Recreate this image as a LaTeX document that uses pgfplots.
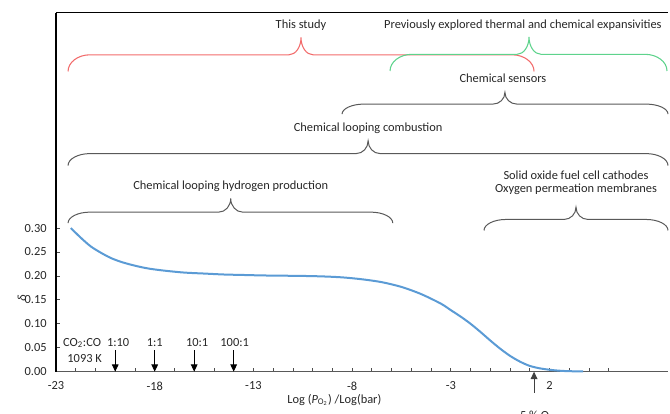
\documentclass[border=0pt]{standalone}
\usepackage{pgfplots}
\pgfplotsset{compat=1.18}
\usepackage{pgfplotstable}
\usepackage{fontspec}
\setmainfont{Carlito}
\usetikzlibrary{arrows.meta}

\definecolor{curveblue}{HTML}{5B9BD5}
\definecolor{bracered}{HTML}{F26B6B}
\definecolor{bracegreen}{HTML}{5ED38C}
\definecolor{bracegray}{HTML}{595959}
\definecolor{txt}{HTML}{262626}

\newcommand{\lblfont}{\fontsize{9.3}{11.2}\selectfont}

% Curly brace above a range of log(pO2):
% #1 style, #2 left x, #3 middle x, #4 right x, #5 y of the bar, #6 end drop, #7 cusp height
\newcommand{\curlybrace}[7]{%
  \draw[#1] ([yshift=-#6]axis cs:#2,#5)
    .. controls ([yshift=-0.45*#6]axis cs:#2,#5) and ([xshift=7.4pt]axis cs:#2,#5) .. ([xshift=16.5pt]axis cs:#2,#5)
    -- ([xshift=-9pt]axis cs:#3,#5)
    .. controls ([xshift=-4pt]axis cs:#3,#5) and ([yshift=0.45*#7]axis cs:#3,#5) .. ([yshift=#7]axis cs:#3,#5)
    .. controls ([yshift=0.45*#7]axis cs:#3,#5) and ([xshift=4pt]axis cs:#3,#5) .. ([xshift=9pt]axis cs:#3,#5)
    -- ([xshift=-16.5pt]axis cs:#4,#5)
    .. controls ([xshift=-7.4pt]axis cs:#4,#5) and ([yshift=-0.45*#6]axis cs:#4,#5) .. ([yshift=-#6]axis cs:#4,#5);
}

% Oxygen non-stoichiometry at 1093 K
\pgfplotstableread{
x       d
-22.25  0.300
-21.75  0.280
-21.25  0.262
-20.75  0.249
-20.25  0.238
-19.75  0.230
-19.25  0.224
-18.75  0.219
-18.25  0.215
-17.5   0.211
-16.5   0.207
-15.5   0.205
-14.5   0.203
-13.5   0.202
-12.5   0.201
-11.5   0.2005
-10.5   0.200
-9.5    0.199
-8.5    0.197
-7.5    0.193
-6.5    0.187
-5.5    0.177
-4.5    0.162
-3.5    0.142
-3.0    0.1285
-2.5    0.115
-2.0    0.100
-1.5    0.083
-1.0    0.065
-0.5    0.048
0.0     0.033
0.5     0.021
1.0     0.012
1.5     0.007
2.0     0.004
2.5     0.002
3.0     0.001
3.7     0.0005
}\deltadata

\begin{document}
\begin{tikzpicture}[font=\lblfont]
\begin{axis}[
  width=459pt, height=269.25pt, scale only axis,
  xmin=-23, xmax=8, ymin=0, ymax=0.75,
  axis x line*=bottom, axis y line*=left,
  axis line style={-},
  x axis line style={black!65, line width=1.2pt, -},
  y axis line style={black, line width=0.8pt, -},
  xtick={-23,-18,-13,-8,-3,2},
  minor xtick={-22,-21,-20,-19,-17,-16,-15,-14,-12,-11,-10,-9,-7,-6,-5,-4,-2,-1,0,1,3,4,5},
  ytick={0,0.05,0.1,0.15,0.2,0.25,0.3},
  tick align=inside,
  major tick length=3pt, minor tick length=3pt,
  tick style={black!70, line width=0.6pt},
  xticklabel style={font=\lblfont, text=txt, yshift=-4pt},
  yticklabel style={font=\lblfont, text=txt, xshift=-3.5pt,
    /pgf/number format/.cd, fixed, fixed zerofill, precision=2},
  /pgf/number format/assume math mode=true,
  clip=false,
]
  \addplot[curveblue, line width=1.5pt, smooth] table[x=x, y=d] {\deltadata};

  % frame along the top
  \draw[black, line width=0.8pt] (rel axis cs:0,1) -- (rel axis cs:1,1);

  % application ranges
  \curlybrace{bracered, line width=0.8pt}{-22.39}{-10.59}{1.215}{0.662}{12.5pt}{13pt}
  \curlybrace{bracegreen, line width=0.8pt}{-6.08}{0.96}{7.95}{0.663}{12.5pt}{13pt}
  \curlybrace{bracegray, line width=0.75pt}{-8.51}{-0.26}{8.0}{0.559}{7.5pt}{8.8pt}
  \curlybrace{bracegray, line width=0.75pt}{-22.39}{-7.19}{8.0}{0.4556}{9pt}{9.6pt}
  \curlybrace{bracegray, line width=0.75pt}{-22.39}{-14.15}{-5.94}{0.3333}{8.25pt}{10.2pt}
  \curlybrace{bracegray, line width=0.75pt}{-1.32}{3.34}{8.0}{0.318}{8.25pt}{9.2pt}

  \node[text=txt] at (axis cs:-10.59,0.724) {This study};
  \node[text=txt] at (axis cs:0.65,0.724) {Previously explored thermal and chemical expansivities};
  \node[text=txt] at (axis cs:-0.36,0.614) {Chemical sensors};
  \node[text=txt] at (axis cs:-7.19,0.508) {Chemical looping combustion};
  \node[text=txt] at (axis cs:-14.15,0.387) {Chemical looping hydrogen production};
  \node[text=txt, align=center, inner sep=0pt] at (axis cs:3.34,0.394)
    {Solid oxide fuel cell cathodes\\[-1.2pt]Oxygen permeation membranes};

  % CO2:CO buffer ratios
  \foreach \xa/\xl/\lab in {-20/-19.85/1:10, -18/-18/1:1, -16/-15.85/10:1, -14/-13.95/100:1}{
    \edef\tmp{\noexpand\draw[black, line width=0.7pt, -{Triangle[width=5pt,length=5.5pt]}]
      (axis cs:\xa,0.045) -- (axis cs:\xa,0);
      \noexpand\node[text=txt] at (axis cs:\xl,0.060) {\lab};}
    \tmp
  }
  \node[text=txt] at (axis cs:-21.68,0.060) {CO\textsubscript{2}:CO};
  \node[text=txt] at (axis cs:-21.55,0.028) {1093 K};

  % air-like 5 % O2
  \draw[black!75, line width=0.7pt, -{Triangle[width=5pt,length=5.5pt]}]
    ([yshift=-15.75pt]axis cs:1.215,0) -- (axis cs:1.215,0);
  \node[text=txt, anchor=north, inner sep=0pt] at ([yshift=-29pt]axis cs:1.37,0) {5 \% O\textsubscript{2}};

  % axis titles
  \node[text=txt, rotate=90] at ([xshift=-25.5pt]axis cs:-23,0.153) {\itshape δ};
  \node[text=txt] at ([yshift=-21.2pt]axis cs:-8.9,0)
    {Log (\textit{P}\textsubscript{O\textsubscript{2}}) /Log(bar)};

  \coordinate (SW) at (rel axis cs:0,0);
  \coordinate (NE) at (rel axis cs:1,1);
\end{axis}
\pgfresetboundingbox
\path[use as bounding box] ([shift={(-42pt,-31.7pt)}]SW) rectangle ([shift={(1.5pt,9.5pt)}]NE);
\end{tikzpicture}
\end{document}
